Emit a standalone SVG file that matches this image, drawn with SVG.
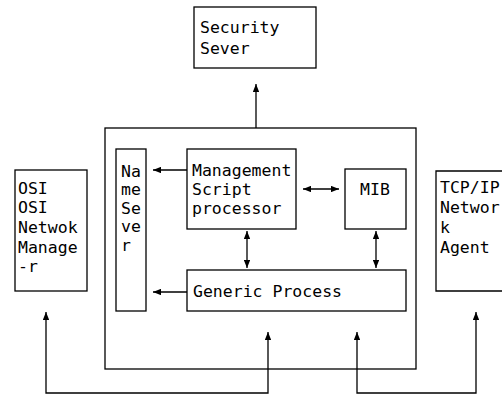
<svg xmlns="http://www.w3.org/2000/svg" width="502" height="396" viewBox="0 0 502 396">
<defs>
<style>
.box{fill:none;stroke:#000;stroke-width:1.3}
.ln{fill:none;stroke:#000;stroke-width:1.3}
text{font-family:"DejaVu Sans Mono","Liberation Mono",monospace;font-size:16.5px;fill:#000}
</style>
<marker id="ah" viewBox="0 0 10 8" refX="10" refY="4" markerWidth="8" markerHeight="6.4" markerUnits="userSpaceOnUse" orient="auto-start-reverse">
<path d="M0,0 L10,4 L0,8 Z" fill="#000"/>
</marker>
</defs>
<rect width="502" height="396" fill="#fff"/>
<g id="security-sever">
<rect class="box" x="194" y="7" width="122" height="61"/>
<text x="200" y="33">Security</text>
<text x="200" y="54">Sever</text>
</g>
<g id="outer-system">
<rect class="box" x="105" y="128" width="311" height="241"/>
</g>
<g id="name-sever">
<rect class="box" x="116" y="149" width="30" height="162"/>
<text x="121" y="177">Na</text>
<text x="121" y="195">me</text>
<text x="121" y="214">Se</text>
<text x="121" y="232">ve</text>
<text x="121" y="251">r</text>
</g>
<g id="management-script-processor">
<rect class="box" x="187" y="149" width="109" height="80"/>
<text x="192" y="176">Management</text>
<text x="192" y="195">Script</text>
<text x="192" y="214">processor</text>
</g>
<g id="mib">
<rect class="box" x="345" y="169" width="61" height="60"/>
<text x="375" y="195" text-anchor="middle">MIB</text>
</g>
<g id="generic-process">
<rect class="box" x="187" y="270" width="219" height="41"/>
<text x="193" y="297">Generic Process</text>
</g>
<g id="osi-manager">
<rect class="box" x="15" y="170" width="72" height="121"/>
<text x="18" y="194">OSI</text>
<text x="18" y="213">OSI</text>
<text x="18" y="233">Netwok</text>
<text x="18" y="253">Manage</text>
<text x="18" y="272">-r</text>
</g>
<g id="tcpip-agent">
<path class="box" d="M504,171 H436 V291 H504"/>
<text x="440" y="193">TCP/IP</text>
<text x="440" y="213">Networ</text>
<text x="440" y="233">k</text>
<text x="440" y="253">Agent</text>
</g>
<g id="connectors">
<path class="ln" d="M256,128 V84" marker-end="url(#ah)"/>
<path class="ln" d="M187,170 H153" marker-end="url(#ah)"/>
<path class="ln" d="M187,292 H153" marker-end="url(#ah)"/>
<path class="ln" d="M303,189 H339" marker-start="url(#ah)" marker-end="url(#ah)"/>
<path class="ln" d="M247,231 V268" marker-start="url(#ah)" marker-end="url(#ah)"/>
<path class="ln" d="M376,231 V268" marker-start="url(#ah)" marker-end="url(#ah)"/>
<path class="ln" d="M268,332 V393 H46 V312" marker-start="url(#ah)" marker-end="url(#ah)"/>
<path class="ln" d="M357,332 V393 H476 V312" marker-start="url(#ah)" marker-end="url(#ah)"/>
</g>
</svg>
